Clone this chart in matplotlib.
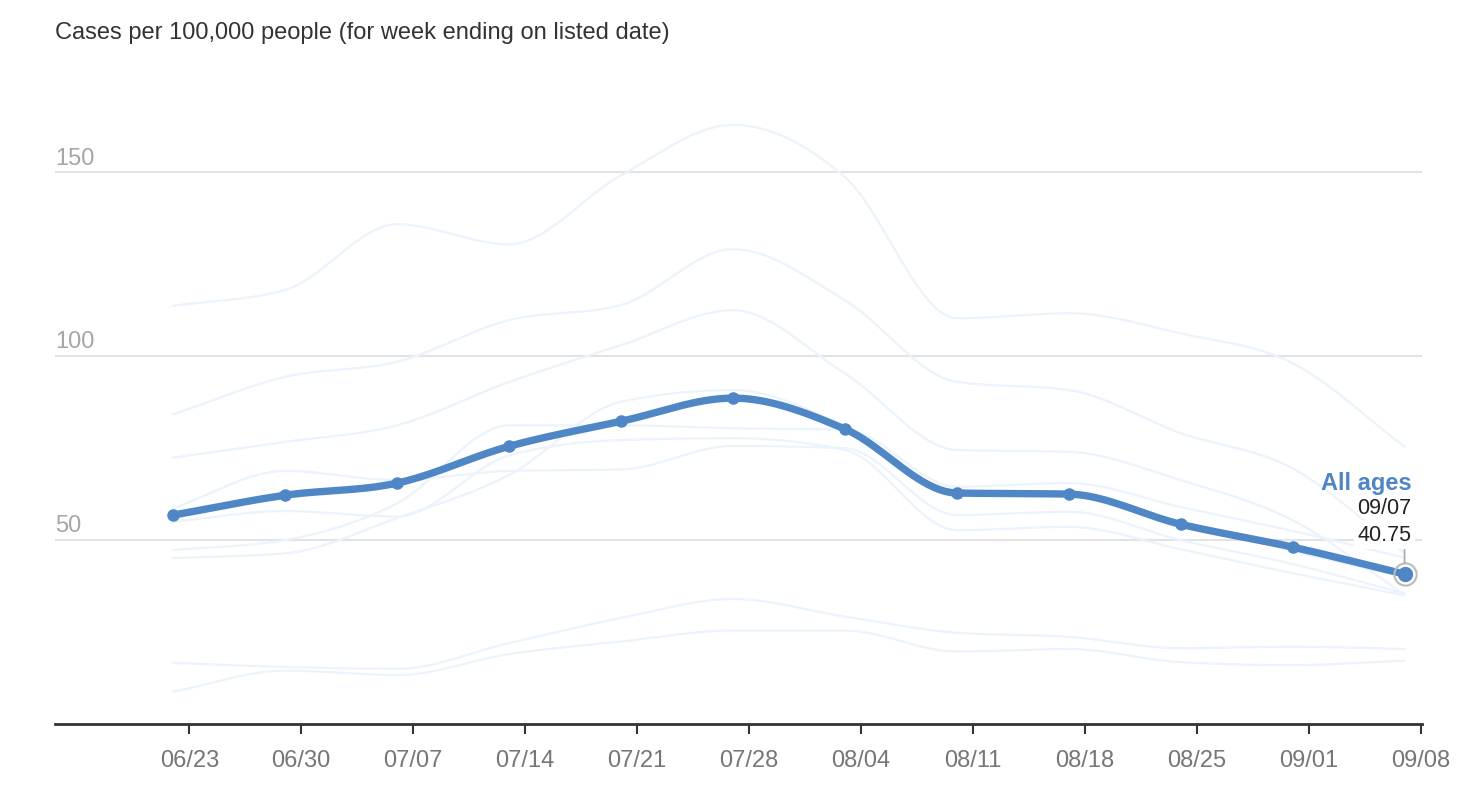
#!/usr/bin/env python3
"""Weekly cases per 100,000 people, all ages vs. age groups."""
from datetime import datetime, timedelta

import matplotlib
matplotlib.use("Agg")
import matplotlib.dates as mdates
import matplotlib.pyplot as plt
import matplotlib.transforms as mtransforms
import numpy as np

plt.rcParams["font.family"] = ["Liberation Sans", "DejaVu Sans"]

# week-ending dates for the data points
week_ends = ["2021-06-22", "2021-06-29", "2021-07-06", "2021-07-13", "2021-07-20", "2021-07-27",
             "2021-08-03", "2021-08-10", "2021-08-17", "2021-08-24", "2021-08-31", "2021-09-07"]

all_ages = [56.8, 62.2, 65.5, 75.5, 82.3, 88.6, 80.2, 62.8, 62.5, 54.3, 48.1, 40.75]

# faint background lines (individual age groups)
group_a = [113.7, 118.0, 135.9, 130.4, 149.2, 162.9, 148.7, 110.3, 111.7, 106.2, 98.1, 75.4]
group_b = [84.2, 94.4, 98.5, 109.8, 113.9, 129.1, 115.2, 93.0, 90.8, 79.1, 69.5, 46.4]
group_c = [72.4, 76.7, 81.2, 93.0, 103.0, 112.5, 95.3, 74.5, 74.0, 66.3, 55.4, 35.2]
group_d = [58.7, 68.8, 66.3, 68.8, 69.2, 75.6, 75.0, 56.8, 57.7, 50.0, 43.5, 35.5]
group_e = [55.0, 57.9, 56.4, 73.0, 77.2, 77.7, 74.5, 52.7, 53.6, 47.5, 41.0, 35.0]
group_f = [47.3, 50.0, 60.0, 81.2, 81.2, 80.4, 80.0, 64.5, 65.5, 59.0, 52.5, 45.2]
group_g = [45.1, 46.4, 56.0, 67.7, 87.6, 90.8, 80.8, 62.0, 62.0, 55.0, 47.0, 40.0]
group_h = [16.6, 15.5, 15.0, 22.0, 28.8, 34.0, 29.2, 24.8, 23.7, 20.6, 21.0, 20.4]
group_i = [8.8, 14.5, 13.3, 19.0, 22.4, 25.4, 25.4, 19.7, 20.4, 16.8, 16.0, 17.2]
groups = [group_a, group_b, group_c, group_d, group_e, group_f, group_g, group_h, group_i]

tick_dates = ["2021-06-23", "2021-06-30", "2021-07-07", "2021-07-14", "2021-07-21", "2021-07-28",
              "2021-08-04", "2021-08-11", "2021-08-18", "2021-08-25", "2021-09-01", "2021-09-08"]
y_ticks = [50, 100, 150]

BLUE = "#4f86c6"
FAINT = "#ebf3fc"


def monotone(x, y, n=20):
    """Monotone cubic (Fritsch-Carlson) curve through the points, like d3.curveMonotoneX."""
    x = np.asarray(x, float)
    y = np.asarray(y, float)
    h = np.diff(x)
    s = np.diff(y) / h
    m = np.zeros_like(y)
    m[0], m[-1] = s[0], s[-1]
    for k in range(1, len(y) - 1):
        if s[k - 1] * s[k] > 0:
            p = (s[k - 1] * h[k] + s[k] * h[k - 1]) / (h[k - 1] + h[k])
            m[k] = np.sign(p) * min(abs(p), 2 * abs(s[k - 1]), 2 * abs(s[k]))
    xs, ys = [], []
    t = np.linspace(0, 1, n, endpoint=False)
    h00 = 2 * t**3 - 3 * t**2 + 1
    h10 = t**3 - 2 * t**2 + t
    h01 = -2 * t**3 + 3 * t**2
    h11 = t**3 - t**2
    for k in range(len(h)):
        xs.append(x[k] + t * h[k])
        ys.append(h00 * y[k] + h10 * h[k] * m[k] + h01 * y[k + 1] + h11 * h[k] * m[k + 1])
    xs.append([x[-1]])
    ys.append([y[-1]])
    return np.concatenate(xs), np.concatenate(ys)


def main():
    xd = mdates.date2num([datetime.fromisoformat(d) for d in week_ends])

    fig = plt.figure(figsize=(14.78, 8.02), dpi=100)
    ax = fig.add_axes([0.0372, 0.0973, 0.9250, 0.8254])

    for g in groups:
        cx, cy = monotone(xd, g)
        ax.plot(cx, cy, color=FAINT, lw=1.6, zorder=2, solid_capstyle="round")

    cx, cy = monotone(xd, all_ages)
    ax.plot(cx, cy, color=BLUE, lw=5.3, zorder=4, solid_capstyle="round")
    ax.plot(xd, all_ages, "o", color=BLUE, ms=8, zorder=5)

    # highlight ring on the last point
    ax.plot(xd[-1], all_ages[-1], "o", ms=16, mfc="none", mec="#bbbbbb", mew=1.5, zorder=6)
    ax.plot(xd[-1], all_ages[-1], "o", color=BLUE, ms=10, zorder=7)
    ax.annotate("", xy=(xd[-1], all_ages[-1]), xytext=(0, 20), textcoords="offset points",
                arrowprops=dict(arrowstyle="-", color="#aaaaaa", lw=1.2, shrinkA=0, shrinkB=8),
                zorder=6)
    ax.annotate("All ages", xy=(xd[-1], all_ages[-1]), xytext=(5, 65.5), textcoords="offset points",
                ha="right", va="center", fontsize=17, fontweight="bold", color=BLUE, zorder=8)
    ax.annotate(datetime.fromisoformat(week_ends[-1]).strftime("%m/%d"),
                xy=(xd[-1], all_ages[-1]), xytext=(5, 47.5), textcoords="offset points",
                ha="right", va="center", fontsize=15.5, color="#222222", zorder=8)
    ax.annotate(f"{all_ages[-1]:.2f}", xy=(xd[-1], all_ages[-1]), xytext=(5, 28),
                textcoords="offset points", ha="right", va="center", fontsize=15.5,
                color="#222222", zorder=8,
                bbox=dict(boxstyle="square,pad=0.15", fc="white", ec="none"))

    ticks = mdates.date2num([datetime.fromisoformat(d) for d in tick_dates])
    ax.set_xticks(ticks)
    ax.set_xticklabels([datetime.fromisoformat(d).strftime("%m/%d") for d in tick_dates])
    x0 = datetime.fromisoformat("2021-06-23") - timedelta(days=8.4)
    x1 = datetime.fromisoformat("2021-09-08") + timedelta(days=0.1)
    ax.set_xlim(mdates.date2num(x0), mdates.date2num(x1))
    ax.set_ylim(0, 180)

    ax.set_yticks(y_ticks)
    ax.set_yticklabels([])
    ax.tick_params(axis="y", length=0)
    ax.grid(True, axis="y", color="#e3e3e3", lw=1.5, zorder=1)
    trans = mtransforms.blended_transform_factory(ax.transAxes, ax.transData)
    for v in y_ticks:
        ax.annotate(str(v), xy=(0, v), xycoords=trans, xytext=(0, 2), textcoords="offset points",
                    ha="left", va="bottom", fontsize=17, color="#a6a6a6")

    ax.tick_params(axis="x", length=7, width=1.5, color="#333333", labelcolor="#767676",
                   labelsize=17, pad=12)
    for side in ("top", "right", "left"):
        ax.spines[side].set_visible(False)
    ax.spines["bottom"].set_color("#333333")
    ax.spines["bottom"].set_linewidth(2)

    fig.text(55 / 1478, 1 - 33 / 802, "Cases per 100,000 people (for week ending on listed date)",
             ha="left", va="center", fontsize=17, color="#333333")

    fig.savefig("out.png", dpi=100, facecolor="white")


if __name__ == "__main__":
    main()
